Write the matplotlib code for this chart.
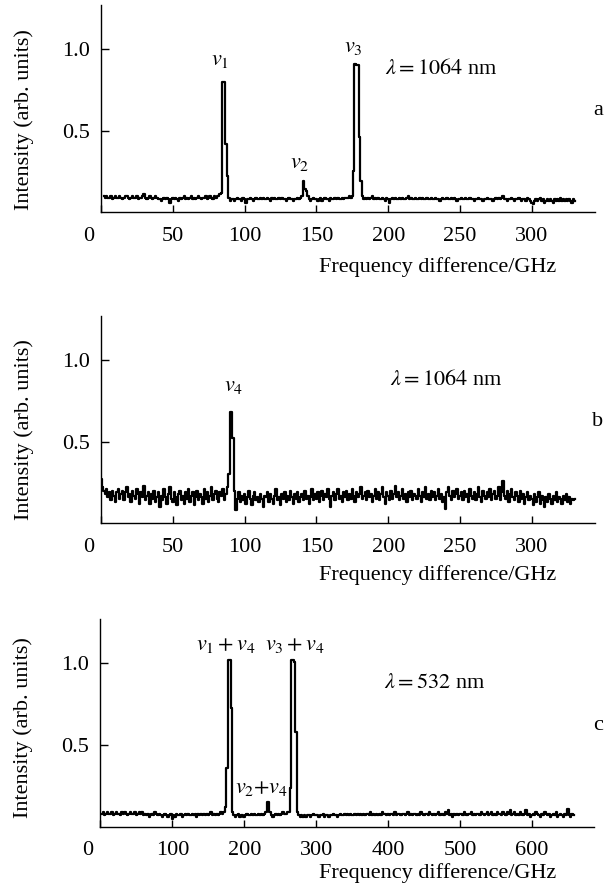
import numpy as np
import matplotlib
matplotlib.use('Agg')
import matplotlib.pyplot as plt

# 三个谱: a, b (1064 nm), c (532 nm)
# 频率轴 (GHz)
freq_a = np.arange(2, 331, 1)
freq_b = np.arange(0, 331, 1)
freq_c = np.arange(2, 659, 2)

# 强度 (arb. units)
int_a = [
    .10, .09, .10, .09, .09, .10, .08, .09, .10, .09,
    .09, .10, .09, .08, .09, .10, .10, .09, .08, .09,
    .10, .09, .09, .10, .08, .09, .09, .10, .11, .09,
    .08, .09, .10, .09, .08, .09, .10, .09, .08, .08,
    .07, .08, .09, .08, .09, .08, .06, .08, .09, .08,
    .09, .08, .07, .09, .08, .09, .10, .08, .09, .08,
    .09, .10, .08, .09, .08, .09, .10, .09, .08, .09,
    .09, .10, .08, .09, .10, .09, .08, .10, .09, .10,
    .10, .11, .12, .80, .80, .42, .22, .09, .07, .08,
    .08, .07, .08, .09, .08, .08, .07, .09, .08, .06,
    .08, .08, .09, .08, .07, .08, .09, .08, .08, .09,
    .08, .09, .08, .08, .09, .08, .07, .09, .08, .09,
    .08, .08, .09, .08, .09, .08, .08, .07, .08, .09,
    .08, .08, .07, .08, .08, .09, .08, .09, .10, .19,
    .14, .13, .10, .08, .07, .08, .09, .08, .08, .07,
    .08, .09, .07, .08, .09, .08, .08, .07, .09, .08,
    .08, .09, .08, .09, .08, .08, .09, .08, .09, .09,
    .09, .10, .09, .10, .25, .91, .90, .90, .46, .19,
    .10, .08, .09, .08, .09, .08, .09, .10, .08, .09,
    .08, .09, .08, .08, .09, .08, .07, .09, .08, .06,
    .08, .09, .08, .09, .08, .08, .09, .08, .09, .08,
    .08, .09, .10, .08, .09, .08, .08, .09, .08, .08,
    .09, .08, .09, .08, .08, .09, .08, .08, .09, .08,
    .08, .09, .08, .08, .07, .08, .09, .08, .08, .09,
    .08, .08, .09, .08, .09, .08, .07, .08, .08, .09,
    .08, .08, .09, .08, .08, .09, .08, .08, .07, .08,
    .08, .09, .08, .08, .07, .08, .08, .09, .08, .08,
    .08, .07, .08, .09, .08, .09, .08, .09, .10, .08,
    .08, .07, .08, .08, .09, .08, .07, .08, .08, .09,
    .08, .07, .08, .08, .07, .09, .08, .07, .06, .05,
    .07, .08, .07, .08, .09, .07, .08, .06, .07, .08,
    .07, .08, .07, .06, .08, .07, .08, .07, .09, .07,
    .08, .07, .08, .07, .08, .07, .06, .08, .07,
]

int_b = [
    .27, .22, .20, .18, .21, .16, .19, .14, .20, .17,
    .13, .19, .21, .15, .18, .20, .14, .19, .22, .16,
    .18, .13, .20, .17, .15, .21, .18, .12, .19, .16,
    .23, .14, .17, .19, .12, .18, .15, .20, .13, .16,
    .19, .10, .17, .14, .21, .16, .12, .18, .22, .15,
    .13, .19, .16, .11, .18, .20, .14, .17, .12, .19,
    .15, .21, .13, .17, .19, .11, .16, .20, .14, .18,
    .16, .12, .21, .15, .19, .13, .17, .22, .14, .18,
    .20, .15, .13, .19, .17, .21, .14, .18, .22, .30,
    .68, .68, .52, .20, .08, .15, .19, .13, .17, .14,
    .18, .12, .16, .20, .15, .11, .17, .19, .14, .16,
    .13, .18, .15, .10, .17, .16, .19, .13, .18, .15,
    .12, .17, .21, .14, .16, .11, .18, .15, .19, .13,
    .17, .14, .20, .16, .12, .18, .15, .19, .13, .16,
    .18, .14, .20, .15, .17, .12, .16, .21, .14, .18,
    .15, .19, .13, .17, .20, .14, .18, .16, .21, .15,
    .10, .17, .19, .14, .18, .21, .15, .17, .13, .19,
    .16, .20, .14, .18, .15, .21, .17, .13, .19, .16,
    .18, .22, .15, .17, .19, .14, .20, .16, .18, .13,
    .17, .21, .15, .19, .14, .18, .22, .16, .12, .19,
    .17, .14, .20, .15, .18, .23, .16, .19, .14, .17,
    .21, .15, .18, .13, .19, .16, .20, .14, .18, .17,
    .15, .21, .17, .13, .19, .16, .22, .15, .18, .14,
    .20, .16, .19, .14, .17, .21, .15, .18, .13, .16,
    .09, .19, .22, .17, .14, .20, .16, .18, .21, .15,
    .17, .19, .14, .20, .16, .18, .13, .21, .17, .15,
    .19, .14, .18, .22, .16, .13, .20, .17, .15, .19,
    .16, .21, .14, .18, .20, .15, .17, .22, .14, .19,
    .26, .17, .15, .20, .13, .18, .21, .16, .14, .19,
    .17, .13, .20, .15, .18, .12, .16, .19, .14, .17,
    .15, .11, .18, .13, .16, .19, .12, .17, .14, .10,
    .16, .13, .18, .15, .12, .17, .14, .19, .13, .16,
    .15, .12, .17, .14, .18, .13, .16, .12, .15, .14,
    .15,
]

int_c = [
    .08, .09, .07, .08, .09, .08, .08, .09, .07, .08,
    .09, .08, .08, .07, .09, .08, .09, .08, .07, .08,
    .09, .08, .08, .09, .07, .08, .09, .08, .09, .07,
    .08, .07, .08, .06, .07, .08, .07, .09, .08, .07,
    .08, .07, .06, .07, .08, .07, .06, .07, .08, .05,
    .07, .06, .08, .07, .07, .08, .06, .07, .08, .07,
    .08, .07, .07, .08, .07, .08, .06, .08, .07, .08,
    .07, .08, .07, .08, .07, .08, .09, .07, .08, .07,
    .08, .07, .08, .09, .08, .09, .12, .36, 1.02, 1.02,
    .73, .09, .07, .06, .07, .08, .06, .07, .07, .06,
    .07, .08, .07, .07, .08, .07, .08, .07, .07, .08,
    .07, .08, .07, .08, .09, .15, .15, .09, .07, .06,
    .07, .08, .07, .08, .07, .08, .09, .08, .08, .09,
    .09, .24, 1.02, 1.02, 1.01, .58, .09, .07, .06, .07,
    .06, .07, .06, .07, .07, .06, .07, .08, .07, .07,
    .07, .06, .07, .07, .08, .06, .07, .07, .06, .07,
    .07, .08, .07, .07, .06, .07, .08, .07, .07, .08,
    .07, .08, .07, .08, .07, .07, .08, .07, .08, .07,
    .08, .07, .08, .07, .08, .08, .07, .09, .07, .08,
    .07, .08, .07, .08, .07, .09, .08, .08, .07, .08,
    .07, .08, .08, .07, .09, .07, .08, .08, .07, .08,
    .08, .07, .08, .09, .07, .08, .07, .08, .08, .07,
    .08, .07, .09, .08, .07, .08, .08, .07, .09, .08,
    .07, .08, .07, .08, .09, .07, .08, .08, .07, .09,
    .08, .10, .07, .08, .06, .08, .07, .08, .07, .08,
    .08, .07, .09, .08, .07, .08, .08, .09, .07, .08,
    .07, .08, .08, .07, .09, .08, .07, .08, .09, .07,
    .08, .09, .07, .08, .07, .09, .08, .08, .07, .09,
    .08, .07, .09, .08, .10, .07, .08, .09, .07, .08,
    .07, .09, .08, .07, .08, .10, .07, .08, .06, .07,
    .08, .07, .09, .08, .07, .06, .08, .07, .09, .08,
    .07, .08, .06, .07, .08, .07, .09, .06, .07, .08,
    .07, .06, .08, .07, .11, .07, .06, .08, .07,
]

# 峰标注: (文本, 频率, 强度)
peaks_a = [(r'$v_1$', 83, 0.93), (r'$v_2$', 138, 0.30), (r'$v_3$', 176, 1.01)]
peaks_b = [(r'$v_4$', 92, 0.84)]
peaks_c = [(r'$v_1 + v_4$', 174, 1.11), (r'$v_3 + v_4$', 271, 1.11),
           (r'$v_2{+}v_4$', 224, 0.235)]

ticks_ab = [0, 50, 100, 150, 200, 250, 300]
ticks_c = [0, 100, 200, 300, 400, 500, 600]

plt.rcParams['font.family'] = ['Liberation Serif', 'DejaVu Serif']
plt.rcParams['mathtext.fontset'] = 'stix'
plt.rcParams['font.size'] = 16

fig = plt.figure(figsize=(6.16, 8.85), dpi=100)

W = 494 / 616
H = 207.3 / 885
XPAD = 10.5
panels = [
    # 频率, 强度, xlim, ticks, 峰标注, λ 文本, λ 位置, 字母, 轴位置, xlabel y, ylabel y
    (freq_a, int_a, 344, ticks_ab, peaks_a, r'$\lambda = 1064$ nm', 237, 'a',
     [101 / 616, 1 - 212.3 / 885, W, H], -0.262, 0.445),
    (freq_b, int_b, 344, ticks_ab, peaks_b, r'$\lambda = 1064$ nm', 240, 'b',
     [101 / 616, 1 - 523.3 / 885, W, H], -0.25, 0.45),
    (freq_c, int_c, 687, ticks_c, peaks_c, r'$\lambda = 532$ nm', 465, 'c',
     [100.4 / 616, 1 - 826.7 / 885, W, H], -0.223, 0.476),
]

for fx, fy, xmax, tks, pks, lam, lamx, letter, pos, xl_y, yl_y in panels:
    ax = fig.add_axes(pos)
    ax.plot(fx, fy, color='black', lw=1.6, drawstyle='steps-mid')
    ax.set_xlim(0, xmax)
    ax.set_ylim(0, 1.27)
    ax.spines['top'].set_visible(False)
    ax.spines['right'].set_visible(False)
    ax.spines['left'].set_linewidth(1.0)
    ax.spines['bottom'].set_linewidth(1.0)
    ax.set_xticks(tks)
    ax.set_xticklabels([''] + [str(t) for t in tks[1:]])
    ax.set_yticks([0.5, 1.0])
    ax.set_yticklabels(['0.5', '1.0'])
    ax.tick_params(axis='x', direction='in', length=5, width=1.0, pad=XPAD, labelsize=16)
    ax.tick_params(axis='y', direction='in', length=5.5, width=1.0, pad=8, labelsize=16)
    # 原点 "0" 稍微向左
    ax.annotate('0', xy=(0, 0), xycoords='data', xytext=(-9, -XPAD),
                textcoords='offset points', ha='center', va='top', fontsize=16)
    for txt, px, py in pks:
        ax.text(px, py, txt, ha='center', va='center', fontsize=16)
    ax.text(lamx, 0.875, lam, ha='center', va='center', fontsize=16)
    ax.text(0.682, xl_y, 'Frequency difference/GHz', transform=ax.transAxes,
            ha='center', va='center', fontsize=16)
    ax.text(-0.156, yl_y, 'Intensity (arb. units)', transform=ax.transAxes,
            rotation=90, ha='center', va='center', fontsize=16)
    fig.text(598 / 616, pos[1] + 0.49 * H, letter, ha='center', va='center', fontsize=16)

fig.savefig('out.png', dpi=100)
